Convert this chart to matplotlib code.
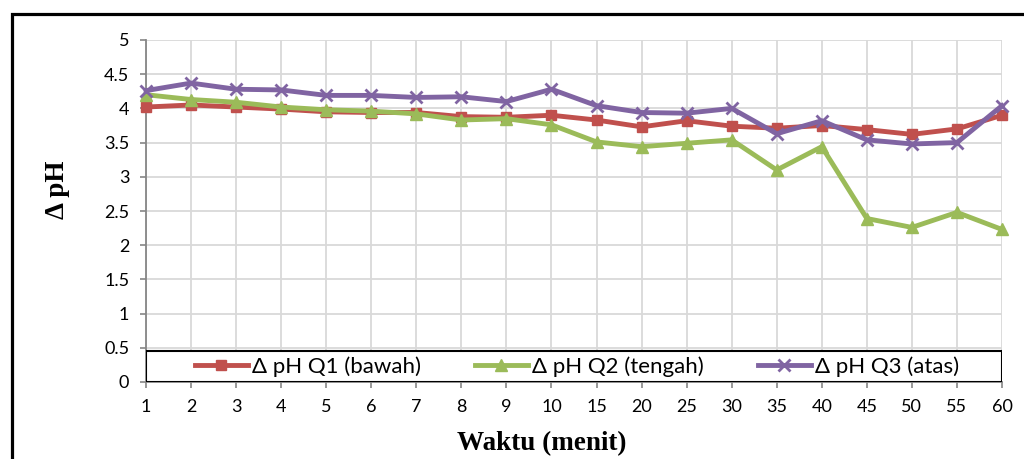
import matplotlib.pyplot as plt
from matplotlib.patches import Rectangle

waktu = ['1', '2', '3', '4', '5', '6', '7', '8', '9', '10',
         '15', '20', '25', '30', '35', '40', '45', '50', '55', '60']
ph_q1 = [4.02, 4.05, 4.02, 3.99, 3.95, 3.94, 3.94, 3.88, 3.87, 3.90,
         3.83, 3.73, 3.82, 3.74, 3.71, 3.75, 3.69, 3.62, 3.70, 3.90]
ph_q2 = [4.20, 4.13, 4.09, 4.02, 3.98, 3.96, 3.92, 3.83, 3.85, 3.76,
         3.51, 3.44, 3.49, 3.54, 3.10, 3.44, 2.39, 2.26, 2.48, 2.23]
ph_q3 = [4.26, 4.37, 4.28, 4.27, 4.19, 4.19, 4.16, 4.17, 4.10, 4.28,
         4.04, 3.94, 3.93, 4.00, 3.63, 3.82, 3.54, 3.48, 3.50, 4.04]

RED, GREEN, PURPLE = '#C0504D', '#9BBB59', '#8064A2'
AXC = '#868686'

plt.rcParams['font.family'] = ['Lato', 'DejaVu Sans']

fig = plt.figure(figsize=(10.24, 4.59), dpi=100)
ax = fig.add_axes([146 / 1024, 1 - 382 / 459, 856 / 1024, 342 / 459])

x = range(len(waktu))
LW = 3.5
ax.plot(x, ph_q1, color=RED, lw=LW, marker='s', ms=6.5, label='Δ pH Q1 (bawah)',
        clip_on=False, zorder=3)
ax.plot(x, ph_q2, color=GREEN, lw=LW, marker='^', ms=8, label='Δ pH Q2 (tengah)',
        clip_on=False, zorder=3)
ax.plot(x, ph_q3, color=PURPLE, lw=LW, marker='x', ms=8, mew=2, label='Δ pH Q3 (atas)',
        clip_on=False, zorder=4)

ax.set_xlim(0, len(waktu) - 1)
ax.set_ylim(0, 5)
ax.set_xticks(list(x))
ax.set_xticklabels(waktu)
ax.set_yticks([0, 0.5, 1, 1.5, 2, 2.5, 3, 3.5, 4, 4.5, 5])
ax.set_yticklabels(['0', '0.5', '1', '1.5', '2', '2.5', '3', '3.5', '4', '4.5', '5'])
ax.grid(True, color='#D9D9D9', lw=1.3)
ax.set_axisbelow(True)
for s in ['top', 'right']:
    ax.spines[s].set_visible(False)
for s in ['left', 'bottom']:
    ax.spines[s].set_color(AXC)
    ax.spines[s].set_linewidth(1.3)
ax.tick_params(axis='both', colors=AXC, length=4, width=1.2, labelsize=13,
               labelcolor='black', pad=8)

# legend box along the bottom of the plot area
ax.add_patch(Rectangle((0, 0), 1, 31 / 342, transform=ax.transAxes,
                       facecolor='white', edgecolor='black', lw=1.5, zorder=5))
leg = ax.legend(loc='center', bbox_to_anchor=(0.5035, 15.5 / 342), ncol=3,
                fontsize=16, frameon=False, handlelength=2.4, handletextpad=0.2,
                columnspacing=2.4, borderpad=0, borderaxespad=0)
leg.set_zorder(6)

fig.text(58 / 1024, 1 - 190 / 459, 'Δ pH', rotation=90, ha='center', va='center',
         family='Liberation Serif', weight='bold', fontsize=19.5)
fig.text(542 / 1024, 1 - 444 / 459, 'Waktu (menit)', ha='center', va='center',
         family='Liberation Serif', weight='bold', fontsize=19.5)

# outer frame of the chart area
fig.patches.append(Rectangle((12 / 1024, -0.1), 1.2, 1 - 14 / 459 + 0.1,
                             transform=fig.transFigure, fill=False,
                             edgecolor='black', lw=2.3))

fig.savefig('out.png', dpi=100)
